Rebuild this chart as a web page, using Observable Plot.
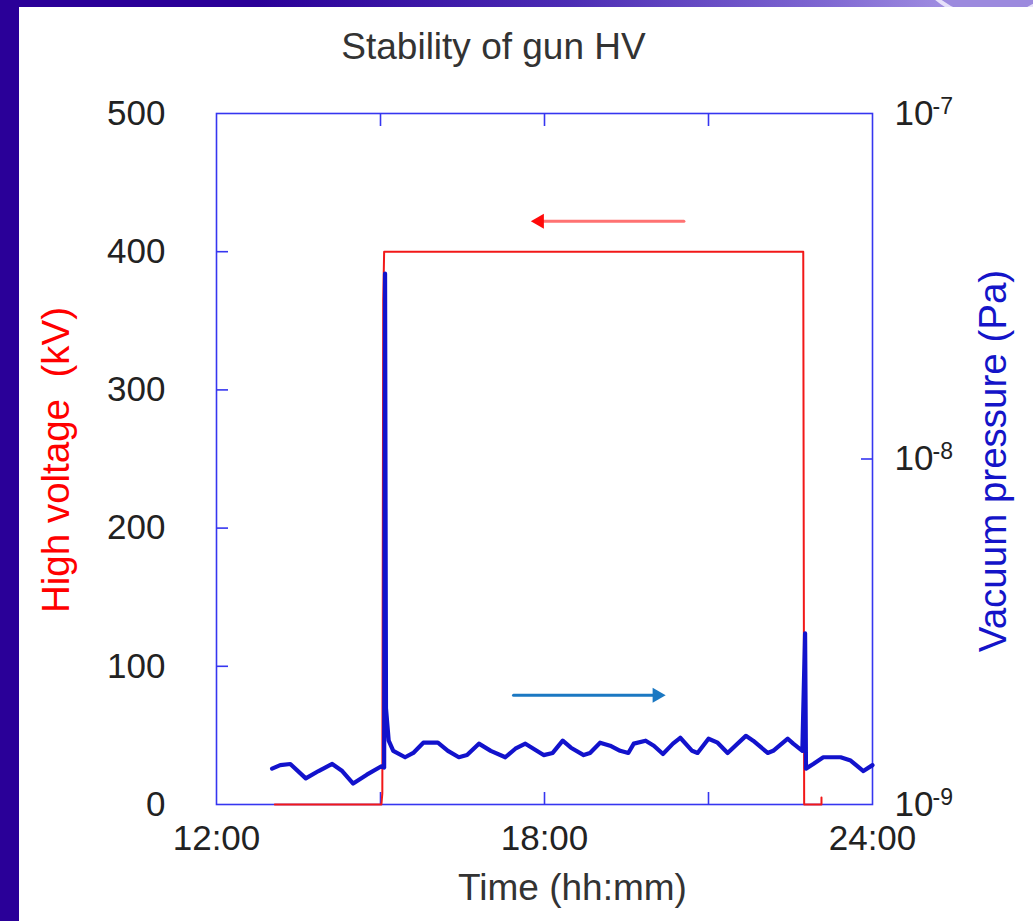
<!DOCTYPE html>
<html>
<head>
<meta charset="utf-8">
<script src="https://cdn.jsdelivr.net/npm/d3@7"></script>
<script src="https://cdn.jsdelivr.net/npm/@observablehq/plot@0.6"></script>
<style>
  html, body { margin: 0; padding: 0; }
  body { width: 1033px; height: 921px; background: #2a0098; position: relative; overflow: hidden; }
  #band { position: absolute; left: 0; top: 0; width: 1033px; height: 7px;
          background: linear-gradient(90deg, #2a0098 0%, #2a0098 25%, #4c2cb4 55%, #7f68d2 80%, #b7a8ec 100%); }
  #globe { position: absolute; left: 905px; top: -150px; width: 170px; height: 170px; border-radius: 50%;
           border: 4px solid #e6e0fa; box-sizing: border-box; background: #9c8ade; }
  #panel { position: absolute; left: 19px; top: 7px; width: 1014px; height: 914px; background: #fff; }
  #panel svg { position: absolute; left: 0; top: 0; }
</style>
</head>
<body>
<div id="band"></div>
<div id="globe"></div>
<div id="panel"></div>
<script>
// Time axis (clock time) and tick values
const xTicks = ["12:00", "15:00", "18:00", "21:00", "24:00"];
const xLabels = ["12:00", "18:00", "24:00"];
const hvTicks = [0, 100, 200, 300, 400, 500];
const paTicks = [1e-9, 1e-8, 1e-7];

// Gun high voltage (kV)
const hvTime = ["13:04", "15:01", "15:02", "15:03", "15:04", "22:44", "22:45", "23:04", "23:04"];
const hvKV   = [0, 0, 8, 365, 400, 400, 0, 0, 5];

// Vacuum pressure (Pa)
const vacTime = ["13:01", "13:10", "13:21", "13:38", "13:52", "14:07", "14:18", "14:30", "14:45", "15:01",
                 "15:04", "15:05", "15:06", "15:09", "15:14", "15:27", "15:36", "15:47", "16:03", "16:14",
                 "16:26", "16:35", "16:48", "17:01", "17:17", "17:28", "17:39", "17:59", "18:09", "18:20",
                 "18:29", "18:43", "18:50", "19:01", "19:12", "19:23", "19:32", "19:38", "19:51", "20:00",
                 "20:10", "20:21", "20:29", "20:42", "20:48", "21:00", "21:10", "21:21", "21:41", "21:49",
                 "22:05", "22:11", "22:27", "22:33", "22:43", "22:46", "22:47", "22:55", "23:06", "23:25",
                 "23:36", "23:50", "24:00"];
const vacPa = [1.27e-9, 1.30e-9, 1.31e-9, 1.19e-9, 1.25e-9, 1.31e-9, 1.25e-9, 1.15e-9, 1.22e-9, 1.29e-9,
               1.28e-9, 3.44e-8, 1.90e-9, 1.53e-9, 1.43e-9, 1.37e-9, 1.41e-9, 1.51e-9, 1.51e-9, 1.43e-9,
               1.37e-9, 1.39e-9, 1.50e-9, 1.43e-9, 1.37e-9, 1.45e-9, 1.50e-9, 1.39e-9, 1.41e-9, 1.53e-9,
               1.46e-9, 1.39e-9, 1.41e-9, 1.51e-9, 1.48e-9, 1.43e-9, 1.41e-9, 1.50e-9, 1.53e-9, 1.48e-9,
               1.40e-9, 1.50e-9, 1.56e-9, 1.43e-9, 1.41e-9, 1.55e-9, 1.51e-9, 1.41e-9, 1.58e-9, 1.53e-9,
               1.41e-9, 1.43e-9, 1.55e-9, 1.50e-9, 1.43e-9, 3.13e-9, 1.27e-9, 1.31e-9, 1.37e-9, 1.37e-9,
               1.34e-9, 1.25e-9, 1.30e-9];

// Arrows pointing each curve to its own axis
const hvArrowTime = ["20:33", "17:45"];
const hvArrowKV = 422;
const paArrowTime = ["17:26", "20:13"];
const paArrowPa = 2.07e-9;

const hrs = s => { const [h, m] = s.split(":").map(Number); return h + m / 60; };
const clock = h => `${Math.floor(h)}:${String(Math.round((h % 1) * 60)).padStart(2, "0")}`;

const hv = hvTime.map((t, i) => ({t: hrs(t), kv: hvKV[i]}));
const vac = vacTime.map((t, i) => ({t: hrs(t), pa: vacPa[i]}));
const hvArrow = [{t1: hrs(hvArrowTime[0]), t2: hrs(hvArrowTime[1]), v: hvArrowKV}];
const paArrow = [{t1: hrs(paArrowTime[0]), t2: hrs(paArrowTime[1]), v: paArrowPa}];

const W = 1014, H = 914;
const margins = {marginLeft: 197, marginRight: 161, marginTop: 106, marginBottom: 117};
const font = "'Liberation Sans', Arial, Helvetica, sans-serif";
const frameBlue = "#3636f0";
const ink = "#222";
const style = {fontFamily: font, fontSize: "35px", color: ink, background: "transparent", overflow: "visible"};
const innerX = xTicks.map(hrs).slice(1, -1);

// Left scale: high voltage, frame, time axis
const hvPlot = Plot.plot({
  width: W, height: H, ...margins, style,
  x: {domain: [12, 24], label: null},
  y: {domain: [0, 500], label: null},
  marks: [
    Plot.frame({stroke: frameBlue, strokeWidth: 1.6}),
    Plot.axisX(innerX, {anchor: "bottom", tickSize: -12, tickFormat: () => "", stroke: frameBlue, strokeWidth: 1.6}),
    Plot.axisX(innerX, {anchor: "top", tickSize: -12, tickFormat: () => "", stroke: frameBlue, strokeWidth: 1.6}),
    Plot.axisX(xLabels.map(hrs), {anchor: "bottom", tickSize: 0, tickPadding: 21, tickFormat: clock, fill: ink}),
    Plot.axisY(hvTicks.slice(1, -1), {anchor: "left", tickSize: -12, tickFormat: () => "", stroke: frameBlue, strokeWidth: 1.6}),
    Plot.axisY(hvTicks, {anchor: "left", tickSize: 0, tickPadding: 51, fill: ink}),
    Plot.line(hv, {x: "t", y: "kv", stroke: "#f21818", strokeWidth: 2}),
    Plot.arrow(hvArrow, {x1: "t1", x2: "t2", y1: "v", y2: "v", headLength: 0, insetEnd: 8, stroke: "#ff7272", strokeWidth: 3}),
    Plot.dot(hvArrow, {x: "t2", y: "v", symbol: "triangle", r: 5.6, rotate: -90, dx: 8.7, fill: "#ff0a0a", stroke: "none"}),
    Plot.text(["Stability of gun HV"], {frameAnchor: "top", lineAnchor: "middle", dx: -51, dy: -66, fontSize: 37, fill: "#333"}),
    Plot.text(["Time (hh:mm)"], {frameAnchor: "bottom", lineAnchor: "middle", dx: 28, dy: 84, fontSize: 37, fill: "#333"}),
    Plot.text(["High voltage  (kV)"], {frameAnchor: "left", textAnchor: "middle", lineAnchor: "middle",
                                       rotate: -90, dx: -160, dy: 1, fontSize: 38.5, fill: "#ff0000"})
  ]
});

// Right scale: vacuum pressure on a log axis, overlaid on the same frame
const paPlot = Plot.plot({
  width: W, height: H, ...margins, style,
  x: {domain: [12, 24], axis: null, label: null},
  y: {type: "log", domain: [1e-9, 1e-7], label: null},
  marks: [
    Plot.axisY(paTicks.slice(1, -1), {anchor: "right", tickSize: -12, tickFormat: () => "", stroke: frameBlue, strokeWidth: 1.6}),
    Plot.axisY(paTicks, {anchor: "right", tickSize: 0, tickPadding: 22, tickFormat: () => "10", fill: ink}),
    Plot.text(paTicks, {y: d => d, frameAnchor: "right", text: d => String(Math.round(Math.log10(d))),
                        dx: 60, dy: -7, textAnchor: "start", fontSize: 23, fill: ink}),
    Plot.line(vac, {x: "t", y: "pa", stroke: "#1212cc", strokeWidth: 4.2, strokeLinejoin: "round"}),
    Plot.arrow(paArrow, {x1: "t1", x2: "t2", y1: "v", y2: "v", headLength: 0, insetEnd: 8, stroke: "#1b78c2", strokeWidth: 3}),
    Plot.dot(paArrow, {x: "t2", y: "v", symbol: "triangle", r: 5.6, rotate: 90, dx: -8.7, fill: "#1b78c2", stroke: "none"}),
    Plot.text(["Vacuum pressure (Pa)"], {frameAnchor: "right", textAnchor: "middle", lineAnchor: "middle",
                                         rotate: -90, dx: 121, dy: 2, fontSize: 38.5, fill: "#1414c8"})
  ]
});

const panel = document.getElementById("panel");
panel.append(hvPlot, paPlot);
</script>
</body>
</html>
